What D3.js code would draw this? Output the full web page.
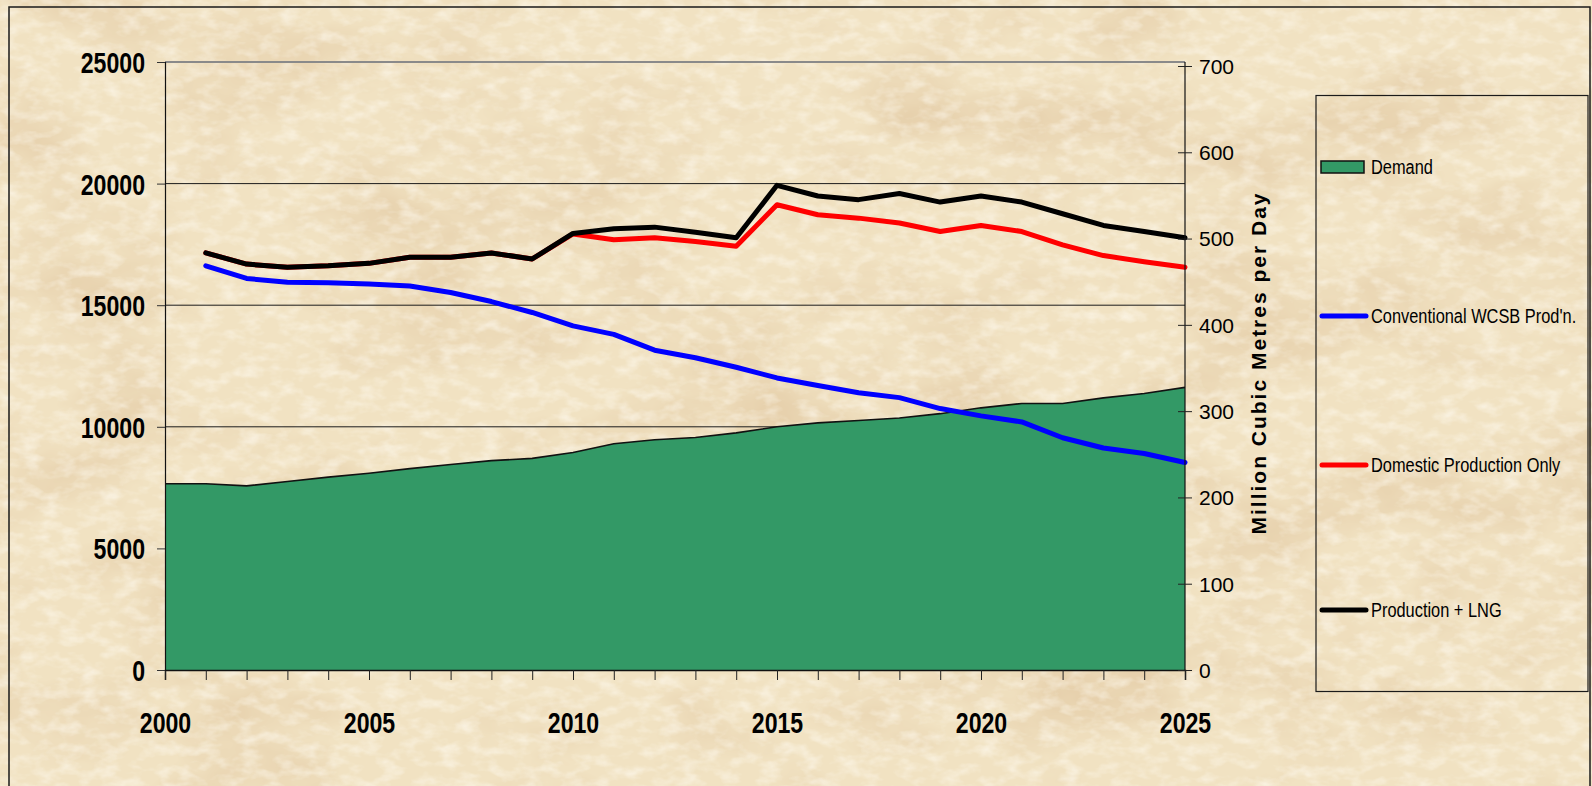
<!DOCTYPE html>
<html>
<head>
<meta charset="utf-8">
<script src="https://cdn.jsdelivr.net/npm/d3@7"></script>
<style>
    body { margin: 0; background: #f1e2c2; overflow: hidden; }
    svg { display: block; font-family: "Liberation Sans", Arial, sans-serif; }
</style>
</head>
<body>
<div id="chart"></div>
<script>
///// DATA //////
let years = [2000, 2001, 2002, 2003, 2004, 2005, 2006, 2007, 2008, 2009, 2010, 2011, 2012,
    2013, 2014, 2015, 2016, 2017, 2018, 2019, 2020, 2021, 2022, 2023, 2024, 2025];
let prodYears = [2001, 2002, 2003, 2004, 2005, 2006, 2007, 2008, 2009, 2010, 2011, 2012,
    2013, 2014, 2015, 2016, 2017, 2018, 2019, 2020, 2021, 2022, 2023, 2024, 2025];

let demand = [7660, 7660, 7570, 7750, 7930, 8090, 8280, 8450, 8610, 8700, 8940, 9300, 9470,
    9560, 9750, 10000, 10160, 10260, 10360, 10540, 10780, 10960, 10960, 11190, 11370, 11620];
let conventional = [16620, 16100, 15940, 15920, 15870, 15790, 15520, 15150, 14700, 14150, 13800, 13150,
    12840, 12450, 12010, 11700, 11400, 11200, 10750, 10450, 10200, 9550, 9130, 8900, 8530];
let domestic = [17150, 16690, 16560, 16620, 16720, 16970, 16970, 17150, 16900, 17930, 17690, 17770,
    17620, 17420, 19130, 18720, 18580, 18380, 18030, 18280, 18030, 17480, 17040, 16790, 16560];
let productionLng = [17150, 16690, 16560, 16620, 16720, 16970, 16970, 17150, 16900, 17950, 18140, 18210,
    18000, 17770, 19930, 19490, 19340, 19590, 19240, 19490, 19240, 18760, 18280, 18030, 17770];

let leftTicks = [0, 5000, 10000, 15000, 20000, 25000];
let rightTicks = [0, 100, 200, 300, 400, 500, 600, 700];
let labelYears = [2000, 2005, 2010, 2015, 2020, 2025];

let legendNames = ['Demand', 'Conventional WCSB Prod\'n.', 'Domestic Production Only', 'Production + LNG'];
let legendColors = ['#339966', '#0000ff', '#ff0000', '#000000'];
let rightTitle = 'Million Cubic Metres per Day';

///// LAYOUT //////
let width = 1592, height = 786;
let plot = {left: 165, right: 1185, top: 62, bottom: 670};
let narrow = 0.77; //los números en negrita se ven estrechos

let svg = d3.select('#chart')
    .append('svg')
    .attr('width', width)
    .attr('height', height);

//Fondo tipo pergamino
let defs = svg.append('defs');
let paper = defs.append('filter').attr('id', 'paper')
    .attr('x', 0).attr('y', 0).attr('width', '100%').attr('height', '100%');
paper.append('feTurbulence')
    .attr('type', 'fractalNoise')
    .attr('baseFrequency', '0.006 0.011')
    .attr('numOctaves', 5)
    .attr('seed', 7);
paper.append('feColorMatrix')
    .attr('type', 'matrix')
    .attr('values', '0 0 0 0 0.80  0 0 0 0 0.64  0 0 0 0 0.42  0 0 0 2.4 -1.05');

let grain = defs.append('filter').attr('id', 'grain')
    .attr('x', 0).attr('y', 0).attr('width', '100%').attr('height', '100%');
grain.append('feTurbulence')
    .attr('type', 'fractalNoise')
    .attr('baseFrequency', '0.05 0.09')
    .attr('numOctaves', 3)
    .attr('seed', 3);
grain.append('feColorMatrix')
    .attr('type', 'matrix')
    .attr('values', '0 0 0 0 1  0 0 0 0 0.97  0 0 0 0 0.90  0 0 0 2.0 -0.85');

svg.append('rect').attr('width', width).attr('height', height).attr('fill', '#f1e2c2');
svg.append('rect').attr('width', width).attr('height', height).attr('filter', 'url(#paper)');
svg.append('rect').attr('width', width).attr('height', height).attr('filter', 'url(#grain)').attr('opacity', 0.6);

//Borde exterior
svg.append('rect')
    .attr('x', 9).attr('y', 7)
    .attr('width', 1581).attr('height', 820)
    .attr('fill', 'none')
    .attr('stroke', '#1a1a1a')
    .attr('stroke-width', 1.5);

//Escalas
let x = d3.scaleLinear().domain([2000, 2025]).range([plot.left, plot.right]);
let yL = d3.scaleLinear().domain([0, 25000]).range([plot.bottom, plot.top]);
let yR = d3.scaleLinear().domain([0, 700]).range([plot.bottom, 66]);

let chart = svg.append('g');

//Rejilla
chart.append('g')
    .selectAll('line')
    .data(leftTicks.filter(d => d > 0))
    .join('line')
    .attr('x1', plot.left)
    .attr('x2', plot.right)
    .attr('y1', d => yL(d))
    .attr('y2', d => yL(d))
    .attr('stroke', d => d == 25000 ? '#8a8a8a' : '#1c1c1c')
    .attr('stroke-width', d => d == 25000 ? 2 : 1);

//Área de demanda
let demandData = years.map((y, i) => ({year: y, value: demand[i]}));

let area = d3.area()
    .x(d => x(d.year))
    .y0(yL(0))
    .y1(d => yL(d.value));

chart.append('path')
    .datum(demandData)
    .attr('fill', '#339966')
    .attr('d', area);

chart.append('path')
    .datum(demandData)
    .attr('fill', 'none')
    .attr('stroke', '#111')
    .attr('stroke-width', 1.6)
    .attr('d', d3.line().x(d => x(d.year)).y(d => yL(d.value)));

//Líneas
let line = d3.line()
    .x(d => x(d.year))
    .y(d => yL(d.value));

[[domestic, legendColors[2]], [productionLng, legendColors[3]], [conventional, legendColors[1]]].forEach(function(s) {
    chart.append('path')
        .datum(prodYears.map((y, i) => ({year: y, value: s[0][i]})))
        .attr('fill', 'none')
        .attr('stroke', s[1])
        .attr('stroke-width', 5)
        .attr('stroke-linejoin', 'round')
        .attr('stroke-linecap', 'round')
        .attr('d', line);
});

//Eje X
let xAxis = chart.append('g')
    .attr('transform', 'translate(0,' + plot.bottom + ')')
    .call(d3.axisBottom(x)
        .tickValues(years)
        .tickSize(10)
        .tickFormat(d => labelYears.includes(d) ? d : ''));

xAxis.select('.domain').attr('stroke', '#111').attr('stroke-width', 1.5);
xAxis.selectAll('.tick line').attr('stroke', '#222');
xAxis.selectAll('.tick text')
    .attr('y', null).attr('dy', '0.35em')
    .attr('transform', 'translate(0,52) scale(' + narrow + ',1)')
    .attr('fill', '#000')
    .style('font-size', '30px')
    .style('font-weight', 'bold');

//Eje Y izquierdo
let yAxisL = chart.append('g')
    .attr('transform', 'translate(' + plot.left + ',0)')
    .call(d3.axisLeft(yL).tickValues(leftTicks).tickSize(8).tickFormat(d => d));

yAxisL.select('.domain').attr('stroke', '#111').attr('stroke-width', 1.2);
yAxisL.selectAll('.tick line').attr('stroke', '#333');
yAxisL.selectAll('.tick text')
    .attr('x', null).attr('dy', '0.35em')
    .attr('transform', 'translate(-20,0) scale(' + narrow + ',1)')
    .attr('fill', '#000')
    .style('font-size', '30px')
    .style('font-weight', 'bold');

//Eje Y derecho
chart.append('line')
    .attr('x1', plot.right).attr('x2', plot.right)
    .attr('y1', plot.top).attr('y2', plot.bottom)
    .attr('stroke', '#111')
    .attr('stroke-width', 1.2);

let yAxisR = chart.append('g')
    .attr('transform', 'translate(' + plot.right + ',0)')
    .call(d3.axisRight(yR).tickValues(rightTicks).tickSize(7).tickPadding(7).tickFormat(d => d));

yAxisR.select('.domain').remove();
yAxisR.selectAll('.tick line').attr('x1', -7).attr('stroke', '#222');
yAxisR.selectAll('.tick text')
    .attr('x', 14).attr('dy', '0.35em')
    .attr('fill', '#000')
    .style('font-size', '21px');

chart.append('text')
    .attr('transform', 'translate(1259,363) rotate(-90)')
    .attr('text-anchor', 'middle')
    .attr('dy', '0.35em')
    .style('font-size', '21px')
    .style('font-weight', 'bold')
    .style('letter-spacing', '2px')
    .text(rightTitle);

///// LEYENDA /////
let legend = svg.append('g');

legend.append('rect')
    .attr('x', 1316).attr('y', 95.5)
    .attr('width', 272).attr('height', 596)
    .attr('fill', 'none')
    .attr('stroke', '#1a1a1a')
    .attr('stroke-width', 1.2);

let legendY = [167, 316, 465, 610];

legendNames.forEach(function(name, i) {
    let item = legend.append('g').attr('transform', 'translate(1321,' + legendY[i] + ')');
    if (i == 0) {
        item.append('rect')
            .attr('x', 0).attr('y', -6)
            .attr('width', 43).attr('height', 12)
            .attr('fill', legendColors[i])
            .attr('stroke', '#111')
            .attr('stroke-width', 1.5);
    } else {
        item.append('line')
            .attr('x1', 1).attr('x2', 45)
            .attr('stroke', legendColors[i])
            .attr('stroke-width', 5)
            .attr('stroke-linecap', 'round');
    }
    item.append('text')
        .attr('transform', 'translate(50,0) scale(0.78,1)')
        .attr('dy', '0.35em')
        .style('font-size', '21px')
        .text(name);
});
</script>
</body>
</html>
